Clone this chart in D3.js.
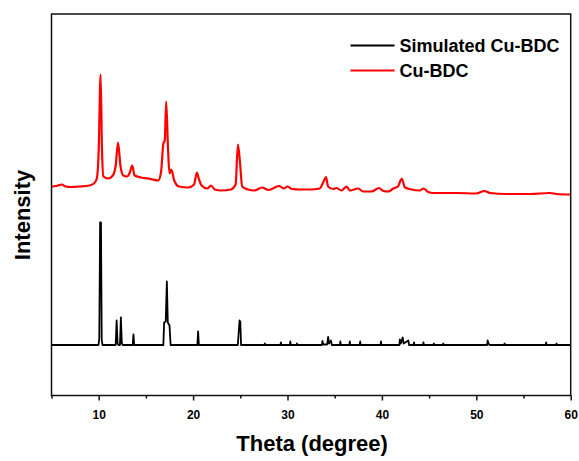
<!DOCTYPE html>
<html>
<head>
<meta charset="utf-8">
<script src="https://cdn.jsdelivr.net/npm/d3@7"></script>
<style>
  body { margin: 0; background: #fff; }
  text { font-family: "Liberation Sans", Arial, sans-serif; font-weight: bold; fill: #000; }
</style>
</head>
<body>
<div id="chart"></div>
<script>
// x ticks (2theta, degree)
var majorTicks = [10, 20, 30, 40, 50, 60];
var minorTicks = [5, 15, 25, 35, 45, 55];

var seriesNames = ["Simulated Cu-BDC", "Cu-BDC"];
var seriesColors = ["#000000", "#ff0000"];

// simulated pattern [theta, intensity (a.u.)]
var simulatedPattern = [
  [5, 50.5], [9.98, 50.5], [10.06, 57], [10.15, 173], [10.24, 173], [10.32, 56], [10.4, 50.5],
  [11.8, 50.5], [11.9, 75], [12.0, 52], [12.1, 50.5],
  [12.25, 50.5], [12.35, 78], [12.45, 52], [12.55, 50.5],
  [13.6, 50.5], [13.68, 61], [13.76, 50.5],
  [16.85, 50.5], [16.93, 73], [17.1, 74], [17.22, 114], [17.32, 73], [17.5, 70], [17.62, 50.5],
  [20.45, 50.5], [20.53, 64], [20.61, 50.5],
  [24.74, 50.5], [24.82, 62], [24.92, 75], [25.0, 74], [25.08, 50.5],
  [27.55, 50.5], [27.6, 52], [27.65, 50.5],
  [29.25, 50.5], [29.3, 53], [29.35, 50.5],
  [30.25, 50.5], [30.3, 54], [30.35, 50.5],
  [30.95, 50.5], [31.0, 52], [31.05, 50.5],
  [33.65, 50.5], [33.7, 54.5], [33.8, 51], [34.2, 51], [34.3, 58.5], [34.4, 52], [34.6, 55], [34.7, 50.5],
  [35.55, 50.5], [35.6, 54], [35.65, 50.5],
  [36.55, 50.5], [36.6, 54], [36.65, 50.5],
  [37.65, 50.5], [37.7, 54], [37.75, 50.5],
  [39.85, 50.5], [39.9, 54], [39.95, 50.5],
  [41.85, 50.5], [41.9, 56], [42.0, 52], [42.2, 58], [42.3, 52], [42.8, 55], [42.88, 50.5],
  [43.35, 50.5], [43.4, 53], [43.45, 50.5],
  [44.35, 50.5], [44.4, 53], [44.45, 50.5],
  [45.45, 50.5], [45.5, 52], [45.55, 50.5],
  [46.45, 50.5], [46.5, 52], [46.55, 50.5],
  [51.15, 50.5], [51.2, 55], [51.3, 52], [51.4, 50.5],
  [52.95, 50.5], [53.0, 52], [53.05, 50.5],
  [57.35, 50.5], [57.4, 53], [57.45, 50.5],
  [58.45, 50.5], [58.5, 52], [58.55, 50.5],
  [60, 50.5]
];

// measured pattern [theta, intensity (a.u.)]
var measuredPattern = [
  [5.0, 209], [5.5, 209.5], [6.1, 211], [6.5, 209], [7.0, 208.5], [8.0, 209], [9.0, 210],
  [9.5, 212], [9.8, 217], [10.0, 245], [10.2, 321], [10.35, 245], [10.5, 219],
  [11.0, 217], [11.5, 220], [11.8, 230], [12.05, 253], [12.3, 230], [12.6, 220],
  [13.0, 219], [13.3, 223], [13.55, 230], [13.8, 220], [14.5, 218], [15.5, 216.5],
  [16.3, 215], [16.6, 223], [16.85, 252], [17.0, 255], [17.15, 294], [17.35, 245],
  [17.5, 222], [17.7, 226], [18.0, 215], [18.5, 209], [19.5, 208], [20.1, 211],
  [20.4, 223], [20.6, 217], [20.9, 210], [21.5, 207], [21.9, 210], [22.3, 206],
  [23.0, 205], [24.0, 206], [24.5, 211], [24.75, 251], [24.95, 235], [25.2, 209],
  [25.8, 206], [26.5, 205], [27.3, 208], [28.0, 205.5], [29.1, 209.5], [29.6, 207],
  [30.0, 209], [30.5, 206.5], [31.3, 206], [32.4, 206], [33.4, 207], [33.8, 213.5],
  [34.08, 218.5], [34.3, 209], [34.85, 206.5], [35.2, 207.5], [35.7, 205], [36.27, 209],
  [36.6, 205], [37.5, 207], [38.0, 204], [38.9, 204], [39.7, 207.5], [40.15, 204.5],
  [40.7, 204], [41.2, 207], [41.7, 209], [42.1, 216.7], [42.45, 208], [43.15, 206],
  [44.0, 205], [44.4, 207], [44.9, 203.5], [45.45, 202.5], [47.9, 202.5], [50.0, 202],
  [50.85, 204.5], [51.45, 202.5], [53.2, 201.5], [55.7, 201.5], [57.8, 202.5],
  [58.5, 201.5], [60.0, 201]
];

var svgWidth = 579;
var svgHeight = 461;

var margin = { top: 14, right: 8.3, bottom: 65.5, left: 51.5 };
var width = svgWidth - margin.left - margin.right;
var height = svgHeight - margin.top - margin.bottom;

var svg = d3.select("#chart")
  .append("svg")
  .attr("width", svgWidth)
  .attr("height", svgHeight);

var chartGroup = svg.append("g")
  .attr("transform", `translate(${margin.left}, ${margin.top})`);

var xScale = d3.scaleLinear().domain([5, 60]).range([0, width]);
var yScale = d3.scaleLinear().domain([0, 381.5]).range([height, 0]);

var line = d3.line()
  .x(d => xScale(d[0]))
  .y(d => yScale(d[1]));

// clip to plot
chartGroup.append("clipPath").attr("id", "plotClip")
  .append("rect").attr("width", width).attr("height", height);

var plotGroup = chartGroup.append("g").attr("clip-path", "url(#plotClip)");

plotGroup.append("path")
  .datum(simulatedPattern)
  .attr("fill", "none")
  .attr("stroke", seriesColors[0])
  .attr("stroke-width", 1.8)
  .attr("stroke-linejoin", "round")
  .attr("d", line);

plotGroup.append("path")
  .datum(measuredPattern)
  .attr("fill", "none")
  .attr("stroke", seriesColors[1])
  .attr("stroke-width", 2.2)
  .attr("stroke-linejoin", "round")
  .attr("d", line.curve(d3.curveMonotoneX));

// frame
chartGroup.append("rect")
  .attr("width", width)
  .attr("height", height)
  .attr("fill", "none")
  .attr("stroke", "#111")
  .attr("stroke-width", 1.5);

// bottom axis: major ticks with labels
var bottomAxis = d3.axisBottom(xScale)
  .tickValues(majorTicks)
  .tickSize(5)
  .tickPadding(10);

var xAxisGroup = chartGroup.append("g")
  .attr("transform", `translate(0, ${height})`)
  .call(bottomAxis);
xAxisGroup.select(".domain").remove();
xAxisGroup.selectAll("line").attr("stroke", "#111").attr("stroke-width", 1.5);
xAxisGroup.selectAll("text")
  .attr("font-size", 12)
  .style("font-family", "'Liberation Sans', Arial, sans-serif")
  .style("font-weight", "bold");

// minor ticks
var minorAxis = d3.axisBottom(xScale)
  .tickValues(minorTicks)
  .tickSize(3)
  .tickFormat("");
var minorGroup = chartGroup.append("g")
  .attr("transform", `translate(0, ${height})`)
  .call(minorAxis);
minorGroup.select(".domain").remove();
minorGroup.selectAll("line").attr("stroke", "#111").attr("stroke-width", 1.5);

// axis titles
chartGroup.append("text")
  .attr("x", width / 2 + 1)
  .attr("y", height + 55)
  .attr("text-anchor", "middle")
  .attr("font-size", 22)
  .text("Theta (degree)");

chartGroup.append("text")
  .attr("transform", "rotate(-90)")
  .attr("x", -(215 - margin.top))
  .attr("y", -margin.left + 30)
  .attr("text-anchor", "middle")
  .attr("font-size", 22)
  .text("Intensity");

// legend
var legend = chartGroup.selectAll(".legend")
  .data(seriesNames)
  .enter()
  .append("g")
  .attr("class", "legend")
  .attr("transform", (d, i) => `translate(${350.5 - margin.left}, ${45.4 - margin.top + i * 25})`);

legend.append("line")
  .attr("x1", 0).attr("x2", 44)
  .attr("stroke", (d, i) => seriesColors[i])
  .attr("stroke-width", 2);

legend.append("text")
  .attr("x", 49)
  .attr("dy", "0.36em")
  .attr("font-size", 18)
  .text(d => d);
</script>
</body>
</html>
